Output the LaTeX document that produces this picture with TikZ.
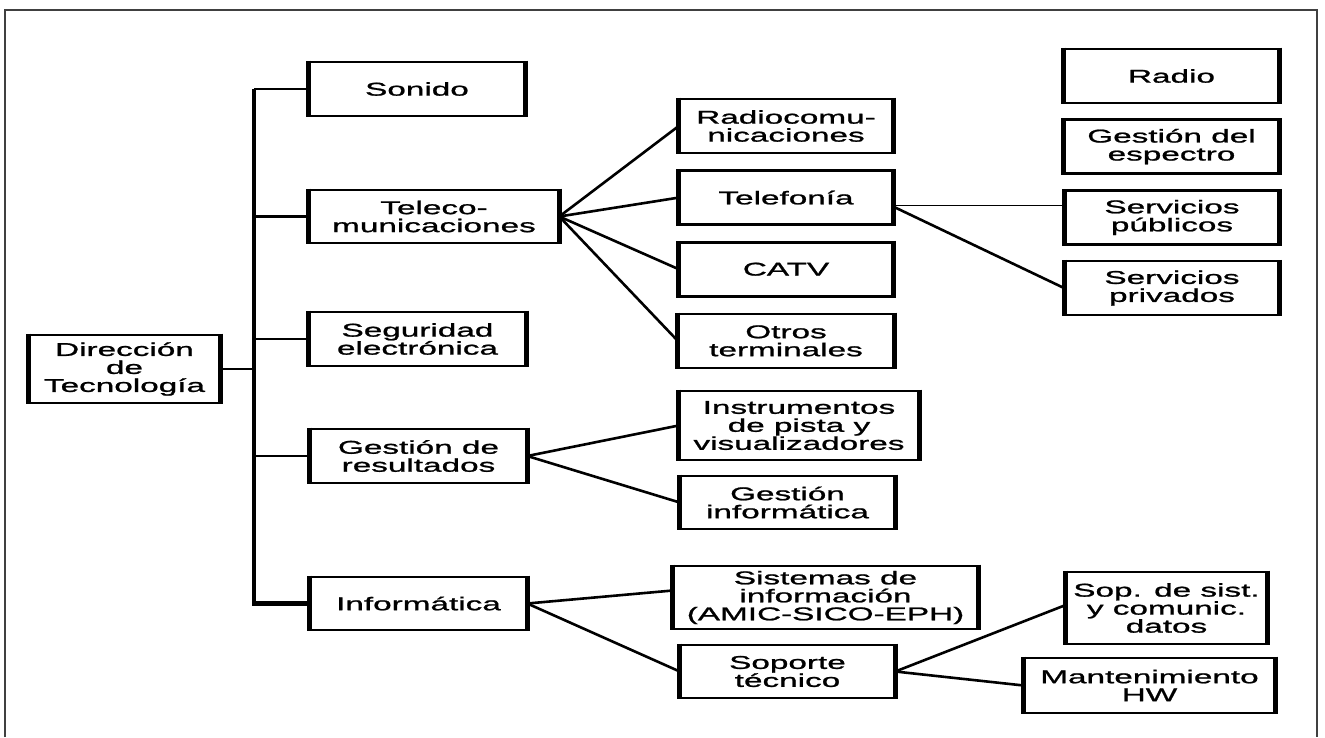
\documentclass[tikz,border=0pt]{standalone}
\usepackage{fontspec}
\usepackage{tikz}
\usetikzlibrary{positioning}
\newfontfamily\boxfont[FakeStretch=1.8,FakeBold=1.2]{Liberation Sans}

\begin{document}
\begin{tikzpicture}[
    x=1pt,y=-1pt,
    node distance=15pt,
    box/.style={draw,line width=2.6pt,align=center,inner sep=1pt,
      minimum width=213pt,minimum height=54pt,
      font=\boxfont\fontsize{18.5}{18}\selectfont},
    side/.style={line width=4.6pt},
    link/.style={draw=black,line width=2.6pt},
    trunk/.style={draw=black,line width=4.6pt},
    thinlink/.style={draw=black,line width=1.4pt},
    frame/.style={draw=black!75,line width=1.4pt}
  ]
    \useasboundingbox (0,0) rectangle (1325,737);
    \draw[frame] (5,737) |- (1317,10) -- (1317,737);

    % first level
    \node[box,minimum width=189pt,minimum height=68pt] (dir) at (124.5,369) {Dirección\\de\\Tecnología};
    \node[box,minimum width=214pt] (sonido) at (417,89) {Sonido};
    \node[box,minimum width=248pt,minimum height=53pt] (teleco) at (434,216.5) {Teleco-\\municaciones};
    \node[box,minimum width=215pt] (seguridad) at (417.5,339) {Seguridad\\electrónica};
    \node[box,minimum width=215pt] (gestres) at (418.5,456) {Gestión de\\resultados};
    \node[box,minimum width=215pt,minimum height=53pt] (informatica) at (418.5,603.5) {Informática};

    % telecomunicaciones
    \node[box,minimum width=212pt] (radiocom) at (786,126) {Radiocomu-\\nicaciones};
    \node[box,minimum width=212pt,below=of radiocom] (telefonia) {Telefonía};
    \node[box,minimum width=212pt,below=of telefonia] (catv) {CATV};
    \node[box,minimum width=214pt,below=of catv] (otros) {Otros\\terminales};

    % right column
    \node[box] (radio) at (1171.5,76) {Radio};
    \node[box,below=14pt of radio] (espectro) {Gestión del\\espectro};
    \node[box] (publicos) at (1172,217.5) {Servicios\\públicos};
    \node[box,below=14pt of publicos] (privados) {Servicios\\privados};

    % resultados
    \node[box,minimum width=238pt,minimum height=69pt] (instrumentos) at (799,425.5) {Instrumentos\\de pista y\\visualizadores};
    \node[box,minimum height=53pt] (gestinf) at (787.5,502.5) {Gestión\\informática};

    % informatica
    \node[box,minimum width=303pt,minimum height=63pt] (sistemas) at (825.5,597.5) {Sistemas de\\información\\(AMIC-SICO-EPH)};
    \node[box,minimum height=53pt] (soporte) at (787.5,671.5) {Soporte\\técnico};
    \node[box,minimum width=199pt,minimum height=72pt] (sopsist) at (1166.5,608) {Sop. de sist.\\y comunic.\\datos};
    \node[box,minimum width=249pt,minimum height=55pt] (manten) at (1149.5,685.5) {Mantenimiento\\HW};

    % heavier upright sides
    \foreach \n in {dir,sonido,teleco,seguridad,gestres,informatica,radiocom,telefonia,catv,otros,
                    radio,espectro,publicos,privados,instrumentos,gestinf,sistemas,soporte,sopsist,manten} {
      \draw[side] (\n.north west) -- (\n.south west);
      \draw[side] (\n.north east) -- (\n.south east);
    }

    % bus
    \coordinate (bus) at (254,0);
    \draw[trunk] (sonido.west -| bus) |- (informatica.west);
    \foreach \n in {sonido,teleco,seguridad,gestres}
      \draw[link] (\n.west) -- (\n.west -| bus);
    \draw[link] (dir.east) -- (dir.east -| bus);

    \draw[link] (teleco.east) -- (radiocom.west);
    \draw[link] (teleco.east) -- (telefonia.west);
    \draw[link] (teleco.east) -- (catv.west);
    \draw[link] (teleco.east) -- (otros.west);

    \draw[thinlink] ([yshift=-8pt]telefonia.east) -- ([yshift=-8pt]telefonia.east -| publicos.west);
    \draw[link] ([yshift=-9pt]telefonia.east) -- (privados.west);

    \draw[link] (gestres.east) -- (instrumentos.west);
    \draw[link] (gestres.east) -- (gestinf.west);

    \draw[link] (informatica.east) -- ([yshift=7pt]sistemas.west);
    \draw[link] (informatica.east) -- (soporte.west);

    \draw[link] (soporte.east) -- ([yshift=3pt]sopsist.west);
    \draw[link] (soporte.east) -- (manten.west);
  \end{tikzpicture}
\end{document}
